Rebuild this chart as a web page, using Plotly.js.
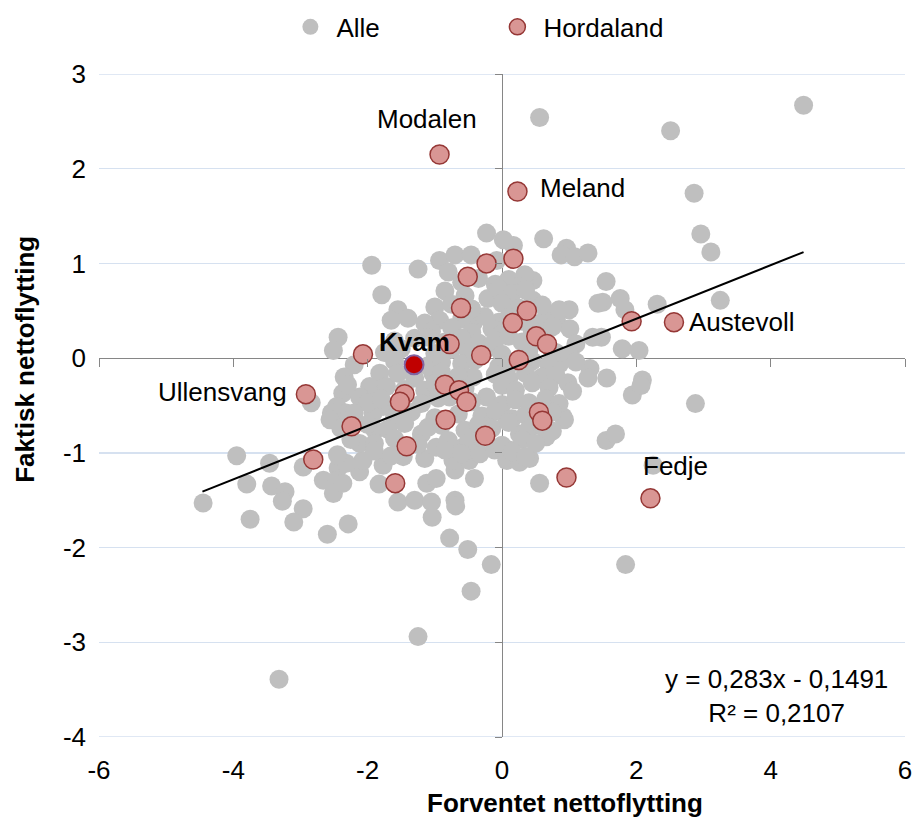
<!DOCTYPE html>
<html>
<head>
<meta charset="utf-8">
<script src="https://cdn.plot.ly/plotly-3.0.1.min.js"></script>
<style>html,body{margin:0;padding:0;background:#fff}#chart{width:915px;height:817px}</style>
</head>
<body>
<div id="chart"></div>
<script>
// ---- data: all municipalities ("Alle") ----
const grayX = [
 4.49,0.56,2.51,2.86,2.96,3.11,3.25,2.31,1.55,1.50,
 1.76,1.83,1.79,2.04,1.48,1.56,2.09,1.94,2.88,1.55,
 1.69,2.25,1.84,0.62,0.17,0.96,0.88,1.08,1.28,1.43,
 1.00,0.46,0.34,0.46,0.81,1.01,0.66,1.35,0.86,1.31,
 1.28,0.98,0.91,-0.23,-1.94,-1.25,-0.93,-0.70,-0.80,-0.46,
 -0.08,-1.79,-1.55,-1.65,-1.00,-0.93,-2.44,-2.51,-2.84,-2.37,
 -2.46,-2.32,-3.95,-3.46,-3.80,-3.43,-3.23,-3.27,-4.45,-2.96,
 -3.75,-3.10,-2.60,-2.96,-2.66,-2.51,-2.44,-2.46,-2.29,-3.32,
 -2.54,-2.56,-1.25,-1.83,-1.55,-1.30,-1.05,-0.70,-0.69,-1.04,
 -1.12,-0.98,-0.70,-0.41,-0.49,-0.78,-0.51,-0.16,-0.46,-2.12,
 -2.37,-2.07,-1.77,-1.47,-1.15,-0.98,-1.20,-0.73,-0.58,-0.33,
 -0.11,0.07,-1.89,-2.12,-2.32,0.56,0.93,0.26,0.41,0.11,
 0.66,0.26,0.07,2.07,-1.82,-1.97,-2.12,-1.72,-1.03,-1.15,
 -0.78,-0.43,-0.23,-1.92,-1.77,-1.30,-0.43,-0.21,-0.26,0.02,
 -0.6,-0.35,-0.1,0.1,0.25,
 -0.85,-0.55,-0.05,0.15,0.35,
 -0.75,-0.45,0.0,0.25,0.6,0.85,
 -1.4,-1.15,-0.6,-0.05,0.1,0.3,0.55,
 -1.05,-0.75,-0.45,-0.15,0.0,0.45,0.75,
 -1.6,-1.1,-0.85,-0.6,-0.35,-0.1,0.1,0.3,0.55,1.1,
 -1.75,-1.5,-1.0,-0.75,-0.5,-0.2,0.0,0.4,0.8,1.0,
 -2.2,-1.6,-1.1,-0.9,-0.6,-0.4,-0.05,0.15,0.45,0.7,1.1,
 -2.35,-1.55,-1.3,-0.9,-0.65,-0.1,0.1,0.35,0.6,0.8,
 -2.3,-1.45,-1.0,-0.55,0.0,0.2,0.45,0.7,1.05,
 -2.0,-1.8,-1.2,-0.95,-0.45,0.0,0.2,0.4,0.65,0.85,
 -2.2,-1.6,-1.35,-1.0,-0.65,-0.3,-0.1,0.15,0.35,0.75,
 -2.4,-2.0,-1.7,-1.45,-1.1,-0.9,-0.55,-0.35,-0.15,0.1,0.4,0.6,0.75,
 -2.25,-1.9,-1.6,-1.25,-0.8,-0.5,-0.3,0.0,0.3,0.5,
 -2.45,-1.9,-1.65,-0.85,-0.6,0.15,0.35
];
const grayY = [
 2.67,2.54,2.40,1.74,1.31,1.12,0.61,0.57,0.81,0.59,
 0.63,0.51,0.10,0.08,0.22,-0.21,-0.23,-0.39,-0.48,-0.87,
 -0.80,-1.13,-2.18,1.26,1.19,1.16,1.09,1.07,1.11,0.58,
 0.51,0.82,0.88,0.61,0.40,0.31,0.44,0.22,-0.06,-0.11,
 -0.21,-0.26,-0.62,1.32,0.98,0.94,1.03,1.09,0.91,1.09,
 1.03,0.67,0.51,0.40,0.54,0.40,0.22,0.08,-0.47,-0.37,
 -0.51,-0.58,-1.03,-1.11,-1.33,-1.35,-1.41,-1.51,-1.53,-1.59,
 -1.70,-1.73,-1.86,-1.15,-1.29,-1.43,-1.16,-1.29,-1.75,-3.39,
 -0.58,-0.65,-2.94,-1.33,-1.52,-1.50,-1.52,-1.50,-1.56,-1.68,
 -1.32,-1.27,-1.18,-1.27,-1.08,-1.90,-2.02,-2.18,-2.46,-1.20,
 -1.32,-1.08,-1.13,-1.04,-1.06,-0.94,-0.80,-1.08,-0.94,-1.01,
 -0.97,-1.08,-0.76,-0.90,-1.11,-1.32,-0.65,-1.10,-1.06,-0.97,
 -0.83,-0.80,-0.65,-0.29,-0.16,-0.30,-0.41,-0.30,-0.16,-0.34,
 -0.41,-0.20,-0.41,-0.58,-0.51,0.21,0.37,0.63,0.44,1.25,
 0.80,0.84,0.78,0.83,0.76,
 0.71,0.66,0.73,0.68,0.72,
 0.57,0.52,0.58,0.53,0.56,0.51,
 0.42,0.37,0.41,0.38,0.43,0.39,0.36,
 0.28,0.32,0.27,0.31,0.26,0.29,0.33,
 0.18,0.22,0.17,0.21,0.16,0.19,0.23,0.17,0.20,0.15,
 0.06,0.10,0.05,0.09,0.07,0.11,0.04,0.08,0.06,0.03,
 -0.07,-0.03,-0.08,-0.04,-0.06,-0.02,-0.09,-0.05,-0.03,-0.07,-0.04,
 -0.20,-0.16,-0.21,-0.15,-0.19,-0.17,-0.22,-0.16,-0.20,-0.18,
 -0.28,-0.33,-0.27,-0.32,-0.29,-0.34,-0.26,-0.31,-0.35,
 -0.47,-0.43,-0.48,-0.42,-0.46,-0.49,-0.44,-0.47,-0.43,-0.48,
 -0.58,-0.62,-0.57,-0.63,-0.59,-0.61,-0.56,-0.64,-0.60,-0.57,
 -0.74,-0.70,-0.75,-0.69,-0.73,-0.71,-0.76,-0.70,-0.74,-0.68,-0.75,-0.72,-0.77,
 -0.86,-0.90,-0.85,-0.91,-0.87,-0.89,-0.84,-0.92,-0.86,-0.90,
 -1.02,-0.98,-1.03,-0.97,-1.01,-0.99,-1.04
];

// ---- data: Hordaland municipalities ----
const hordX = [-0.93,0.23,-0.23,0.17,-0.51,-0.61,0.37,0.16,0.51,0.67,0.25,-0.31,-0.78,-2.07,-2.92,-0.85,
  -0.64,-1.45,-1.52,-0.53,0.55,0.60,-0.84,-0.25,-1.42,-2.24,-2.81,-1.59,0.96,2.21,1.93,2.56];
const hordY = [2.15,1.76,1.00,1.05,0.86,0.53,0.50,0.37,0.23,0.15,-0.02,0.03,0.15,0.04,-0.38,-0.28,
  -0.34,-0.38,-0.46,-0.46,-0.57,-0.66,-0.65,-0.82,-0.93,-0.72,-1.07,-1.32,-1.26,-1.48,0.39,0.38];

// ---- data: Kvam (highlighted) ----
const kvamX = [-1.31];
const kvamY = [-0.07];

// ---- trend line (y = 0,283x - 0,1491), endpoints ----
const trendX = [-4.46, 4.49];
const trendY = [-1.41, 1.12];
const trendText = 'y = 0,283x - 0,1491<br>R² = 0,2107';

// ---- ticks ----
const xTickVals = [-6,-4,-2,0,2,4,6];
const xTickText = ['-6','-4','-2','0','2','4','6'];
const yTickVals = [-4,-3,-2,-1,0,1,2,3];
const yTickText = ['-4','-3','-2','-1','0','1','2','3'];

// ---- point labels ----
const labelNames = ['Modalen','Meland','Austevoll','Ullensvang','Fedje','Kvam'];
const labelAt = {
  'Modalen':[-1.12,2.53], 'Meland':[1.20,1.80], 'Austevoll':[3.58,0.38],
  'Ullensvang':[-4.16,-0.36], 'Fedje':[2.58,-1.14], 'Kvam':[-1.30,0.17]
};

const FONT = 'Liberation Sans, Arial, sans-serif';
const FS = 26;
const X_RANGE = [-6, 6];
const Y_RANGE = [-4, 3];
const GRID = '#D6E1F0';

const traces = [
  {type:'scatter', mode:'markers', name:'Alle', x:grayX, y:grayY,
   marker:{size:19, color:'#BFBFBF'}, hoverinfo:'skip'},
  {type:'scatter', mode:'markers', name:'Hordaland', x:hordX, y:hordY,
   marker:{size:19, color:'#D99694', line:{color:'#953735', width:1.5}}, hoverinfo:'skip'},
  {type:'scatter', mode:'markers', name:'Kvam', x:kvamX, y:kvamY, showlegend:false,
   marker:{size:19, color:'#C00000', line:{color:'#8064A2', width:2}}, hoverinfo:'skip'},
  {type:'scatter', mode:'lines', name:'Trend', x:trendX, y:trendY, xaxis:'x2', yaxis:'y2',
   showlegend:false, line:{color:'#000000', width:2}, hoverinfo:'skip'}
];

const annotations = labelNames.map(n => ({
  x:labelAt[n][0], y:labelAt[n][1], xref:'x', yref:'y', showarrow:false,
  text: n === 'Kvam' ? '<b>'+n+'</b>' : n,
  font:{family:FONT, size:FS, color:'#000'}, xanchor:'center', yanchor:'middle'
}));
annotations.push({
  x:0.841, y:0.062, xref:'paper', yref:'paper', showarrow:false, text:trendText,
  align:'center', font:{family:FONT, size:FS, color:'#000'}, xanchor:'center', yanchor:'middle'
});
annotations.push({
  x:0.578, y:-0.100, xref:'paper', yref:'paper', showarrow:false,
  text:'<b>Forventet nettoflytting</b>', font:{family:FONT, size:FS, color:'#000'},
  xanchor:'center', yanchor:'middle'
});
annotations.push({
  x:-0.0918, y:0.569, xref:'paper', yref:'paper', showarrow:false, textangle:-90,
  text:'<b>Faktisk nettoflytting</b>', font:{family:FONT, size:FS, color:'#000'},
  xanchor:'center', yanchor:'middle'
});

// horizontal grid lines at the two range ends (Plotly skips those)
const shapes = [Y_RANGE[0], Y_RANGE[1]].map(v => ({
  type:'line', xref:'paper', yref:'y', x0:0, x1:1, y0:v, y1:v, layer:'below',
  line:{color:GRID, width:1.5}
}));

const layout = {
  width:915, height:817,
  margin:{l:99, r:10, t:74, b:80, autoexpand:false},
  paper_bgcolor:'#fff', plot_bgcolor:'#fff',
  font:{family:FONT, size:FS, color:'#000'},
  showlegend:true,
  legend:{orientation:'h', x:0.23, xanchor:'left', y:1.071, yanchor:'middle',
          font:{family:FONT, size:FS, color:'#000'}, entrywidth:150, entrywidthmode:'pixels',
          itemwidth:42, bgcolor:'rgba(0,0,0,0)'},
  xaxis:{range:X_RANGE, tickvals:xTickVals, ticktext:xTickText, showgrid:false,
         zeroline:true, zerolinecolor:'#868686', zerolinewidth:1, showline:false, ticks:'',
         tickfont:{family:FONT, size:FS, color:'#000'}, ticklabelstandoff:15, fixedrange:true},
  yaxis:{range:Y_RANGE, tickvals:yTickVals, ticktext:yTickText, showgrid:true,
         gridcolor:GRID, gridwidth:1.5, zeroline:true, zerolinecolor:'#868686', zerolinewidth:1,
         showline:false, ticks:'', tickfont:{family:FONT, size:FS, color:'#000'},
         ticklabelstandoff:12, fixedrange:true},
  xaxis2:{overlaying:'x', anchor:'free', position:4/7, side:'bottom', range:X_RANGE,
          tickvals:xTickVals, ticks:'outside', ticklen:8, tickcolor:'#868686', tickwidth:1,
          showticklabels:false, showgrid:false, zeroline:false, showline:false, fixedrange:true},
  yaxis2:{overlaying:'y', anchor:'free', position:0.5, side:'left', range:Y_RANGE,
          tickvals:yTickVals, ticks:'outside', ticklen:7, tickcolor:'#868686', tickwidth:1,
          showticklabels:false, showgrid:false, zeroline:false, showline:false, fixedrange:true},
  shapes:shapes,
  annotations:annotations
};

Plotly.newPlot('chart', traces, layout, {displayModeBar:false, staticPlot:true});
</script>
</body>
</html>
